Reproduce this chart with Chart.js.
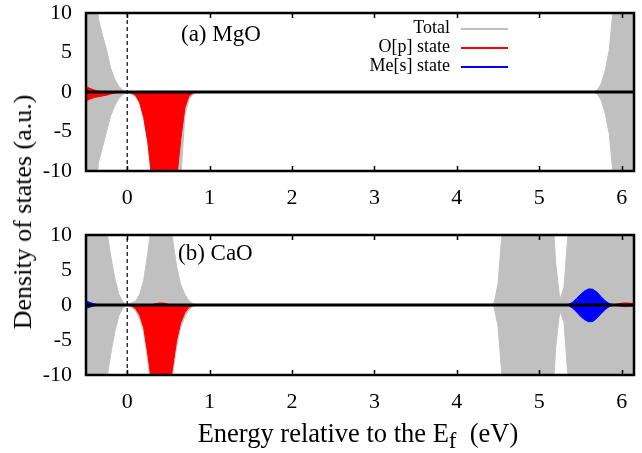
<!DOCTYPE html>
<html><head><meta charset="utf-8">
<script src="https://cdn.jsdelivr.net/npm/chart.js@4.4.1/dist/chart.umd.min.js"></script>
<style>
html,body{margin:0;padding:0;background:#fff;}
#wrap{position:relative;width:642px;height:453px;overflow:hidden;font-family:"Liberation Serif","Times New Roman",serif;color:#000;}
canvas{position:absolute;left:0;}
.t{position:absolute;white-space:nowrap;line-height:1;}
.lg{position:absolute;height:2px;left:461px;width:47px;}
</style></head><body>
<div id="wrap">
<canvas id="ca" width="642" height="215" style="top:0px"></canvas>
<canvas id="cb" width="642" height="238" style="top:215px"></canvas>
<div class="t" style="left:181px;top:22px;font-size:23px;">(a) MgO</div>
<div class="t" style="left:178px;top:241px;font-size:23px;">(b) CaO</div>
<div class="t" style="right:192px;top:18px;font-size:18px;text-align:right;">Total</div>
<div class="t" style="right:192px;top:37px;font-size:18px;text-align:right;">O[p] state</div>
<div class="t" style="right:192px;top:56px;font-size:18px;text-align:right;">Me[s] state</div>
<div class="lg" style="top:28px;background:#c0c0c0;"></div>
<div class="lg" style="top:47px;background:#ff0000;"></div>
<div class="lg" style="top:66px;background:#0000ff;"></div>
<div class="t" style="left:23px;top:212px;font-size:26px;transform:translate(-50%,-50%) rotate(-90deg);">Density of states (a.u.)</div>
<div class="t" style="left:358px;top:433px;font-size:26.5px;transform:translate(-50%,-50%);">Energy relative to the E<span style="position:relative;top:6px;font-size:23px;">f</span>&nbsp; (eV)</div>
</div>
<script>
// ---- axes ----
const xRange = [-0.5, 6.15];
const yRange = [-10, 10];
const xTicks = [0, 1, 2, 3, 4, 5, 6];
const yTicks = [-10, -5, 0, 5, 10];
const fermiLevel = 0;

// ---- panel (a) MgO ----
const energyA = [-0.5,-0.45,-0.4,-0.35,-0.3,-0.25,-0.2,-0.15,-0.1,-0.05,0,0.05,0.1,0.15,0.2,0.25,0.3,0.35,0.4,0.45,0.5,0.55,0.6,0.65,0.7,0.75,0.8,0.85,0.9,1,2,3,4,5,5.5,5.6,5.65,5.7,5.75,5.8,5.85,5.9,5.95,6,6.05,6.1,6.15];
const totalUpA = [40,25,15,9.3,7.2,5.3,3,1.6,0.7,0.2, 0, 0,0,0,0,0,0,0,0,0,0,0,0,0,0,0,0,0,0, 0,0,0,0,0, 0,0,0,0.2,1,2.7,5.3,11,20,30,40,50,60];
const totalDnA = [-40,-25,-15,-9,-7,-5,-3,-1.7,-0.8,-0.3, -0.1, -0.3,-0.6,-1.4,-3.3,-6.5,-11.5,-16,-19,-19,-18,-15,-13,-11,-3,-0.9,-0.3,-0.05,0, 0,0,0,0,0, 0,0,0,-0.2,-1,-2.7,-5.3,-11,-20,-30,-40,-50,-60];
const oUpA = [0.7,0.45,0.25,0.1,0.02,0,0,0,0,0, 0, 0,0,0,0,0,0,0,0,0,0,0,0,0,0,0,0,0,0, 0,0,0,0,0, 0,0,0,0,0,0,0,0,0,0,0,0,0];
const oDnA = [-1.1,-0.9,-0.7,-0.6,-0.5,-0.4,-0.25,-0.12,-0.05,0, 0, -0.1,-0.4,-1.3,-3.2,-6.3,-11,-15,-18,-18,-17,-14,-11,-6,-2,-0.5,-0.1,0,0, 0,0,0,0,0, 0,0,0,0,0,0,0,0,0,0,0,0,0];

// ---- panel (b) CaO ----
const energyB = [-0.5,-0.45,-0.4,-0.35,-0.3,-0.25,-0.2,-0.15,-0.1,-0.05,0,0.05,0.1,0.15,0.2,0.25,0.3,0.35,0.4,0.45,0.5,0.55,0.6,0.65,0.7,0.75,0.8,0.85,0.9,1,2,3,4,4.4,4.45,4.5,4.55,4.6,4.65,4.7,4.75,4.8,4.85,4.9,4.95,5,5.05,5.1,5.15,5.2,5.25,5.3,5.35,5.4,5.45,5.5,5.55,5.6,5.65,5.7,5.75,5.8,5.85,5.9,5.95,6,6.05,6.1,6.15];
const totalUpB = [40,30,22,17,13,10.8,7,3.8,1.5,0.4, 0.05,0.3,0.5,1.5,3.5,7.5,12,16,18,17, 14,9.5,5.5,2.9,1.5,0.6,0.15,0,0, 0,0,0,0, 0,0.2,3,10.5,20, 30,30,30,30,30,30,30,30,30,30, 16,6,0.8,2.5,10.5,20, 30,30,30,30,30,30,30,30,30,30,30,30,30,30,30];
const totalDnB = [-40,-30,-22,-17,-13,-10.8,-7,-3.8,-1.5,-0.4, -0.05,-0.35,-0.8,-2,-3.9,-8,-12.5,-16.5,-18.5,-17.5, -14.5,-10,-6,-3.2,-1.7,-0.7,-0.2,-0.05,0, 0,0,0,0, 0,-0.2,-3,-10.5,-20, -30,-30,-30,-30,-30,-30,-30,-30,-30,-30, -16,-6,-0.8,-2.5,-10.5,-20, -30,-30,-30,-30,-30,-30,-30,-30,-30,-30,-30,-30,-30,-30,-30];
const oUpB = [0,0,0,0,0,0,0,0,0,0, 0,0,0,0,0,0,0.05,0.2,0.3,0.25, 0.1,0,0,0,0,0,0,0,0, 0,0,0,0, 0,0,0,0,0, 0,0,0,0,0,0,0,0,0,0, 0,0,0,0,0,0, 0,0,0,0,0,0,0,0,0,0,0.15,0.25,0.3,0.25,0.2];
const oDnB = [0,0,0,0,0,0,0,0,0,0, 0,-0.1,-0.5,-1.4,-3.2,-7,-11.5,-15,-17,-16, -13.5,-9,-5,-2.5,-1.1,-0.3,-0.05,0,0, 0,0,0,0, 0,0,0,0,0, 0,0,0,0,0,0,0,0,0,0, 0,0,0,0,0,0, 0,0,0,0,0,0,0,0,0,0,-0.1,-0.2,-0.25,-0.2,-0.15];
const meUpB = [0.6,0.35,0.15,0.05,0,0,0,0,0,0, 0,0,0,0,0,0,0,0,0,0, 0,0,0,0,0,0,0,0,0, 0,0,0,0, 0,0,0,0,0, 0,0,0,0,0,0,0,0,0,0, 0,0,0,0,0.05,0.35, 0.9,1.5,2.0,2.3,2.25,1.85,1.2,0.6,0.2,0.05,0,0,0,0,0];
const meDnB = [-0.5,-0.3,-0.12,-0.03,0,0,0,0,0,0, 0,0,0,0,0,0,0,0,0,0, 0,0,0,0,0,0,0,0,0, 0,0,0,0, 0,0,0,0,0, 0,0,0,0,0,0,0,0,0,0, 0,0,0,0,-0.05,-0.4, -0.95,-1.6,-2.1,-2.4,-2.35,-1.9,-1.25,-0.65,-0.22,-0.05,0,0,0,0,0];

const GRAY = '#c0c0c0', RED = '#ff0000', BLUE = '#0000ff';
const FONT = '"Liberation Serif", "Times New Roman", serif';

function pts(xs, ys) { return xs.map((x, i) => ({x: x, y: ys[i]})); }
function area(xs, ys, color, order) {
  return {data: pts(xs, ys), borderColor: color, backgroundColor: color, borderWidth: 1,
          pointRadius: 0, fill: 'origin', tension: 0, order: order, clip: 0};
}
function refLines() {
  return [
    {data: [{x: xRange[0], y: 0}, {x: xRange[1], y: 0}], borderColor: '#000', borderWidth: 3,
     pointRadius: 0, fill: false, order: 0, clip: 0},
    {data: [{x: fermiLevel, y: yRange[0]}, {x: fermiLevel, y: yRange[1]}], borderColor: '#000', borderWidth: 1.2,
     borderDash: [4, 3], pointRadius: 0, fill: false, order: 1, clip: 0}
  ];
}

const framePlugin = {
  id: 'frame',
  afterDraw(chart) {
    const {ctx, chartArea: a} = chart;
    const x = chart.scales.x;
    ctx.save();
    ctx.strokeStyle = '#000';
    ctx.lineWidth = 1.5;
    x.ticks.forEach(t => {
      const px = Math.round(x.getPixelForValue(t.value)) + 0.5;
      ctx.beginPath();
      ctx.moveTo(px, a.top); ctx.lineTo(px, a.top + 5);
      ctx.moveTo(px, a.bottom); ctx.lineTo(px, a.bottom - 5);
      ctx.stroke();
    });
    ctx.lineWidth = 2.5;
    ctx.strokeRect(a.left, a.top, a.right - a.left, a.bottom - a.top);
    ctx.restore();
  }
};

function makeOptions(padTop, xHeight) {
  return {
    responsive: false, animation: false, events: [],
    layout: {padding: {top: padTop, right: 8, left: 0, bottom: 0}},
    plugins: {legend: {display: false}, tooltip: {enabled: false}},
    scales: {
      x: {
        type: 'linear', min: xRange[0], max: xRange[1],
        afterBuildTicks: s => { s.ticks = xTicks.map(v => ({value: v})); },
        afterFit: s => { s.height = xHeight; s.paddingLeft = 0; s.paddingRight = 0; },
        ticks: {callback: v => String(v), font: {family: FONT, size: 22}, color: '#000',
                padding: 14, maxRotation: 0, autoSkip: false},
        grid: {display: false, drawTicks: false}, border: {display: false}
      },
      y: {
        type: 'linear', min: yRange[0], max: yRange[1],
        afterBuildTicks: s => { s.ticks = yTicks.map(v => ({value: v})); },
        afterFit: s => { s.width = 86; s.paddingTop = 0; s.paddingBottom = 0; },
        ticks: {callback: v => String(v), font: {family: FONT, size: 22}, color: '#000', padding: 14},
        grid: {display: false, drawTicks: false}, border: {display: false}
      }
    }
  };
}

function draw() {
  new Chart(document.getElementById('ca'), {
    type: 'line',
    data: {datasets: [
      ...refLines(),
      area(energyA, oUpA, RED, 3),
      area(energyA, oDnA, RED, 3),
      area(energyA, totalUpA, GRAY, 4),
      area(energyA, totalDnA, GRAY, 4)
    ]},
    options: makeOptions(13, 44),
    plugins: [framePlugin]
  });

  new Chart(document.getElementById('cb'), {
    type: 'line',
    data: {datasets: [
      ...refLines(),
      area(energyB, meUpB, BLUE, 2),
      area(energyB, meDnB, BLUE, 2),
      area(energyB, oUpB, RED, 3),
      area(energyB, oDnB, RED, 3),
      area(energyB, totalUpB, GRAY, 4),
      area(energyB, totalDnB, GRAY, 4)
    ]},
    options: makeOptions(20, 78),
    plugins: [framePlugin]
  });
}

if (document.fonts && document.fonts.load) {
  document.fonts.load('22px "Liberation Serif"').then(draw, draw);
} else {
  draw();
}
</script>
</body></html>
